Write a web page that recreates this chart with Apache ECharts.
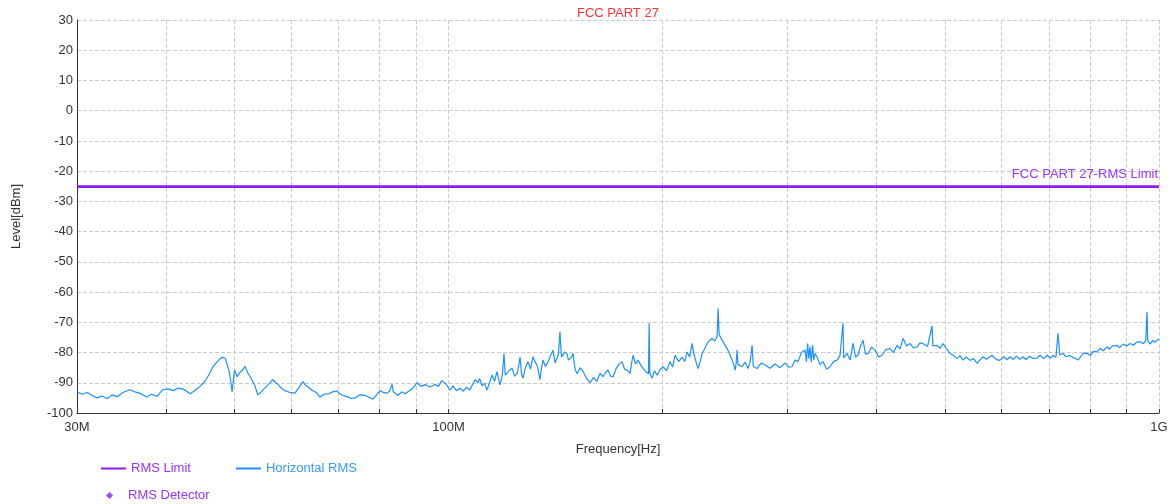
<!DOCTYPE html>
<html>
<head>
<meta charset="utf-8">
<title>FCC PART 27</title>
<script src="https://cdn.jsdelivr.net/npm/echarts@6/dist/echarts.min.js"></script>
<style>
  html, body { margin: 0; padding: 0; background: #fff; }
  #main { width: 1173px; height: 504px; }
</style>
</head>
<body>
<div id="main"></div>
<script>
// limit and axis ticks
var limitLevel = -25;
var xTicksMHz = [30, 40, 50, 60, 70, 80, 90, 100, 200, 300, 400, 500, 600, 700, 800, 900, 1000];
var xLabelsMHz = [30, 100, 1000];

var trace30to100 = [
  [30.0,-93.0],[30.5,-93.8],[31.0,-93.2],[31.5,-94.2],[32.0,-95.0],[32.5,-94.4],[33.1,-95.2],[33.6,-94.0],
  [34.2,-94.6],[34.8,-93.2],[35.6,-92.3],[36.2,-93.0],[36.9,-93.6],[37.6,-94.7],[38.2,-93.8],[38.9,-94.5],
  [39.6,-92.3],[40.3,-92.0],[41.0,-92.6],[41.6,-91.8],[42.3,-92.1],[42.8,-92.8],[43.3,-93.6],[44.0,-92.5],
  [44.7,-91.2],[45.2,-90.0],[45.7,-88.5],[46.2,-86.5],[46.6,-84.7],[47.2,-83.2],[47.7,-82.0],[48.1,-81.6],
  [48.5,-81.9],[48.8,-82.5],[49.1,-86.0],[49.4,-90.0],[49.6,-93.0],[49.8,-89.0],[50.0,-85.8],[50.4,-88.0],
  [50.9,-86.5],[51.3,-85.8],[51.7,-84.6],[52.2,-86.8],[52.6,-88.0],[53.0,-89.5],[53.4,-91.0],[53.9,-94.0],
  [54.3,-93.4],[55.0,-92.0],[55.7,-90.7],[56.2,-89.8],[56.6,-89.0],[57.1,-89.9],[57.6,-90.7],[58.2,-91.8],
  [58.9,-92.6],[59.8,-93.2],[60.8,-93.4],[61.6,-91.5],[62.4,-89.6],[62.9,-90.8],[63.4,-91.3],[64.3,-92.5],
  [65.3,-93.4],[65.9,-94.8],[66.8,-93.8],[67.7,-93.7],[68.7,-93.0],[69.7,-92.7],[70.3,-93.6],[71.0,-94.2],
  [72.0,-94.6],[73.0,-95.2],[73.9,-95.0],[75.0,-94.0],[76.3,-94.2],[77.3,-94.8],[78.3,-95.4],[79.2,-94.0],
  [80.1,-92.6],[81.0,-93.2],[81.9,-93.5],[82.6,-92.8],[83.3,-90.5],[83.6,-93.0],[84.9,-94.2],[85.9,-93.0],
  [86.9,-93.6],[87.9,-92.8],[88.9,-92.0],[89.6,-91.0],[90.3,-90.0],[91.5,-91.2],[92.7,-90.6],[94.2,-91.4],
  [95.7,-90.6],[96.8,-91.2],[97.9,-89.3],[99.0,-90.2]
];
var trace100to300 = [
  [100.5,-92.4],[101.5,-91.0],[102.6,-92.6],[103.8,-91.8],[104.9,-92.8],[106.0,-91.5],[107.2,-92.4],[108.1,-90.6],
  [109.0,-89.0],[110.0,-90.0],[110.6,-88.6],[111.5,-91.0],[112.4,-90.2],[113.3,-92.4],[114.2,-90.0],[115.2,-87.4],
  [116.1,-89.5],[117.0,-86.3],[117.6,-88.6],[118.2,-90.7],[119.0,-87.8],[119.7,-80.3],[120.2,-87.5],[120.9,-88.0],
  [121.9,-85.8],[122.9,-85.2],[123.9,-87.8],[124.9,-86.9],[125.5,-84.5],[126.1,-81.5],[126.7,-87.0],[127.3,-88.5],
  [128.3,-85.0],[129.4,-83.0],[130.4,-85.5],[131.5,-81.4],[132.3,-83.0],[133.2,-84.1],[133.9,-86.5],[134.5,-89.0],
  [135.2,-85.0],[135.8,-82.5],[136.9,-84.6],[138.1,-83.0],[139.2,-81.0],[140.3,-79.2],[141.2,-83.4],[142.1,-82.0],
  [142.8,-80.5],[143.5,-73.1],[144.2,-81.5],[144.9,-82.0],[145.8,-79.8],[146.8,-80.3],[147.5,-82.5],[148.3,-83.0],
  [149.0,-81.5],[149.7,-80.3],[150.7,-85.5],[151.7,-87.0],[153.2,-85.0],[154.7,-86.3],[156.4,-88.5],[158.2,-90.0],
  [160.0,-88.2],[161.8,-89.6],[163.4,-86.8],[165.0,-88.0],[166.4,-86.5],[167.7,-85.8],[169.1,-87.8],[170.5,-88.0],
  [172.0,-85.5],[173.5,-84.0],[175.5,-83.0],[176.9,-85.5],[178.4,-85.8],[180.1,-86.9],[181.0,-83.5],[181.9,-80.9],
  [183.3,-83.8],[184.8,-82.5],[186.3,-84.0],[187.9,-85.3],[189.8,-86.5],[191.2,-87.0],[191.6,-70.3],[192.0,-86.8],
  [193.4,-88.5],[195.0,-86.0],[196.6,-87.5],[198.5,-85.6],[200.5,-84.7],[202.7,-86.0],[205.0,-83.0],[206.7,-84.8],
  [208.4,-80.9],[210.8,-83.0],[213.2,-81.5],[215.0,-83.0],[216.7,-79.8],[218.5,-81.5],[220.2,-77.0],[221.3,-80.0],
  [222.4,-82.0],[223.5,-83.8],[224.6,-85.3],[226.0,-83.0],[227.5,-80.3],[229.3,-78.8],[231.2,-77.0],[233.1,-76.0],
  [235.0,-75.3],[236.9,-76.2],[238.8,-74.8],[239.6,-65.4],[240.4,-74.0],[242.7,-75.9],[244.7,-77.3],[246.7,-78.7],
  [248.7,-80.5],[250.7,-82.5],[252.0,-84.0],[253.2,-85.8],[254.0,-83.5],[254.8,-79.2],[255.6,-84.0],[258.9,-84.7],
  [261.5,-83.2],[264.0,-85.3],[265.8,-83.0],[267.5,-77.6],[268.5,-84.5],[271.8,-85.3],[275.4,-83.5],[279.0,-84.1],
  [283.5,-85.2],[288.1,-83.8],[292.8,-85.0],[297.6,-83.4]
];
var trace300to1000 = [
  [301.0,-84.8],[304.5,-84.7],[307.5,-82.5],[310.4,-83.0],[313.9,-80.0],[317.6,-79.2],[319.0,-83.0],[320.2,-77.0],
  [321.5,-82.0],[322.7,-78.1],[324.0,-83.2],[325.4,-77.5],[326.7,-82.5],[328.0,-80.3],[330.1,-81.4],[333.3,-84.0],
  [336.6,-83.0],[340.5,-85.5],[344.3,-84.7],[348.2,-83.0],[352.2,-82.5],[355.6,-81.0],[359.1,-70.3],[360.0,-81.8],
  [363.9,-80.3],[367.4,-82.5],[371.0,-77.0],[374.0,-81.5],[377.0,-80.9],[380.0,-78.0],[383.2,-75.9],[386.3,-80.5],
  [389.5,-80.3],[394.0,-78.2],[398.4,-79.2],[403.0,-81.5],[407.5,-80.9],[412.8,-79.0],[418.2,-78.7],[423.0,-80.0],
  [427.9,-77.6],[432.0,-78.8],[436.3,-75.3],[441.2,-77.8],[446.2,-77.0],[451.3,-78.5],[456.5,-78.1],[461.0,-76.8],
  [465.4,-77.0],[472.3,-78.0],[479.3,-71.2],[480.5,-77.8],[487.0,-77.6],[491.8,-78.6],[496.7,-77.0],[502.3,-78.8],
  [508.0,-80.3],[513.8,-81.0],[519.7,-82.0],[524.7,-81.0],[529.8,-82.5],[535.8,-81.5],[542.0,-82.6],[548.2,-82.0],
  [554.5,-83.6],[560.0,-82.4],[565.3,-81.4],[571.7,-82.2],[578.3,-81.4],[582.1,-80.9],[588.0,-82.0],[593.5,-82.5],
  [597.4,-82.5],[605.0,-81.4],[611.0,-82.4],[617.1,-81.4],[623.5,-82.3],[630.0,-81.2],[636.8,-82.2],[643.7,-81.4],
  [650.0,-82.4],[656.5,-81.2],[665.0,-82.0],[673.5,-81.8],[680.0,-80.9],[688.0,-82.0],[695.7,-80.9],[703.0,-81.8],
  [710.0,-81.0],[716.0,-81.6],[720.8,-73.6],[725.0,-80.8],[732.7,-80.3],[740.0,-81.4],[748.0,-81.0],[756.9,-81.6],
  [763.0,-82.0],[769.2,-82.5],[775.0,-81.5],[783.0,-80.2],[792.0,-80.3],[800.0,-81.0],[808.0,-79.6],[818.1,-79.8],
  [826.0,-78.6],[835.0,-79.4],[845.0,-78.1],[852.0,-78.9],[860.0,-77.8],[872.8,-77.6],[880.0,-78.4],[890.0,-77.2],
  [900.0,-77.8],[910.4,-77.0],[920.0,-77.6],[930.0,-76.6],[940.4,-76.4],[950.0,-77.0],[958.0,-76.2],[961.9,-66.5],
  [964.0,-76.0],[971.3,-77.2],[980.0,-76.0],[987.0,-76.6],[993.5,-75.9],[1000.0,-75.6]
];

var purple = '#8c1aff';
var purpleText = '#9933ff';
var blue = '#1e90ff';

// x axis is log10(Hz)
function lg(mhz) { return Math.log10(mhz * 1e6); }

var traceData = trace30to100.concat(trace100to300, trace300to1000).map(function (p) {
  return [lg(p[0]), p[1]];
});
var limitData = [[lg(30), limitLevel], [lg(1000), limitLevel]];

var myChart = echarts.init(document.getElementById('main'));

var option = {
  animation: false,
  textStyle: { fontFamily: 'Liberation Sans, Arial, sans-serif', fontSize: 13 },
  title: {
    text: 'FCC PART 27',
    left: 572,
    top: 2,
    textStyle: { color: '#ff3333', fontSize: 13, fontWeight: 'normal' }
  },
  legend: [{
    left: 96,
    top: 457,
    icon: 'rect',
    itemWidth: 25,
    itemHeight: 2,
    itemGap: 45,
    textStyle: { fontSize: 13 },
    data: [
      { name: 'RMS Limit', textStyle: { color: purpleText } },
      { name: 'Horizontal RMS', textStyle: { color: '#3399ff' } }
    ]
  }, {
    left: 101,
    top: 484,
    icon: 'diamond',
    itemWidth: 7,
    itemHeight: 7,
    textStyle: { fontSize: 13, padding: [0, 0, 0, 10] },
    data: [{ name: 'RMS Detector', textStyle: { color: purpleText } }]
  }],
  grid: { left: 77, right: 14, top: 20, bottom: 91 },
  xAxis: {
    type: 'value',
    min: lg(30),
    max: lg(1000),
    name: 'Frequency[Hz]',
    nameLocation: 'middle',
    nameGap: 30,
    nameTextStyle: { color: '#333', fontSize: 13 },
    axisLine: { onZero: false, lineStyle: { color: '#333', width: 1 } },
    axisTick: {
      show: true,
      inside: true,
      length: 4,
      lineStyle: { color: '#333' },
      customValues: xTicksMHz.map(lg)
    },
    axisLabel: {
      color: '#333',
      fontSize: 13,
      margin: 8,
      customValues: xLabelsMHz.map(lg),
      formatter: function (v) {
        var mhz = Math.round(Math.pow(10, v) / 1e6);
        return mhz >= 1000 ? (mhz / 1000) + 'G' : mhz + 'M';
      }
    },
    splitLine: { show: true, lineStyle: { color: '#cccccc', type: 'dashed', width: 1 } }
  },
  yAxis: {
    type: 'value',
    min: -100,
    max: 30,
    interval: 10,
    name: 'Level[dBm]',
    nameLocation: 'middle',
    nameGap: 54,
    nameTextStyle: { color: '#333', fontSize: 13 },
    axisLine: { show: true, onZero: false, lineStyle: { color: '#333', width: 1 } },
    axisTick: { show: false },
    axisLabel: { color: '#333', fontSize: 13, margin: 4 },
    splitLine: { show: true, lineStyle: { color: '#cccccc', type: 'dashed', width: 1 } }
  },
  series: [{
    name: 'RMS Limit',
    type: 'line',
    data: limitData,
    symbol: 'none',
    z: 3,
    lineStyle: { color: purple, width: 2 },
    itemStyle: { color: purple },
    markLine: {
      silent: true,
      symbol: 'none',
      lineStyle: { color: purple, width: 2, type: 'solid' },
      label: {
        show: true,
        position: 'insideEndTop',
        distance: [1, 5],
        color: purpleText,
        fontSize: 13,
        formatter: 'FCC PART 27-RMS Limit'
      },
      data: [{ yAxis: limitLevel }]
    }
  }, {
    name: 'Horizontal RMS',
    type: 'line',
    data: traceData,
    symbol: 'none',
    z: 2,
    lineStyle: { color: blue, width: 1.2 },
    itemStyle: { color: blue }
  }, {
    name: 'RMS Detector',
    type: 'scatter',
    symbol: 'diamond',
    symbolSize: 7,
    itemStyle: { color: purple },
    data: []
  }]
};

myChart.setOption(option);

window.onresize = function () {
  myChart.resize();
};
</script>
</body>
</html>
